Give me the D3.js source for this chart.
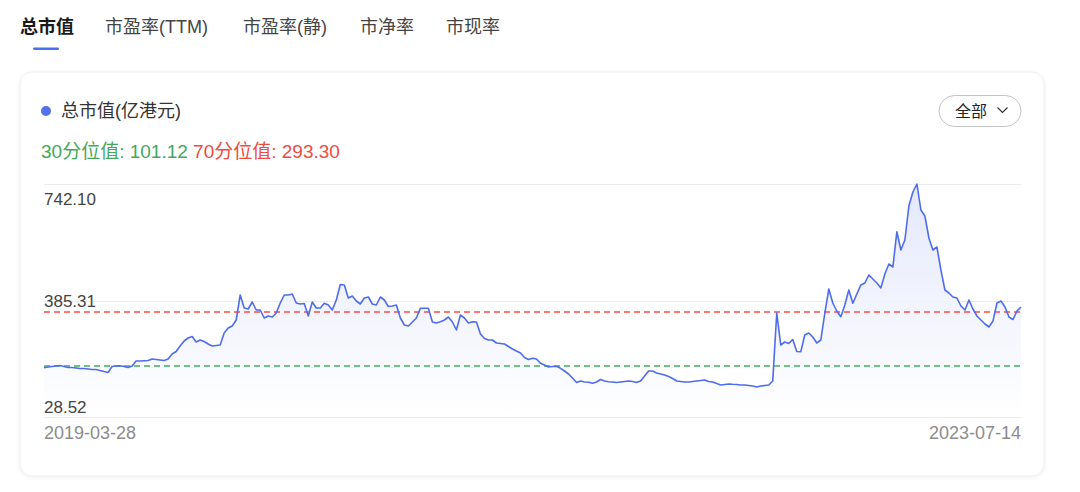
<!DOCTYPE html>
<html><head><meta charset="utf-8">
<script src="https://cdn.jsdelivr.net/npm/d3@7/dist/d3.min.js"></script>
<style>
html,body{margin:0;padding:0;background:#fff;}
text{font-family:"Liberation Sans","Noto Sans CJK SC",sans-serif;}
</style></head>
<body>
<svg id="c" width="1080" height="492"></svg>
<script>
// ---- data ----
const tabs = ["总市值","市盈率(TTM)","市盈率(静)","市净率","市现率"];
const seriesName = "总市值(亿港元)";
const startDate = "2019-03-28";
const endDate = "2023-07-14";
const p30 = 101.12;
const p70 = 293.30;
const yTickValues = [742.10, 385.31, 28.52];
const yTickLabels = ["742.10","385.31","28.52"];
const values = [
 96.3, 98.8, 100.5, 102.3, 104.0, 100.5, 97.0, 97.0, 95.2, 93.5, 93.5, 91.7, 90.0, 90.0, 86.5, 82.9, 79.4, 100.5, 102.3, 103.3,
 100.5, 97.0, 102.3, 119.9, 119.9, 120.9, 121.6, 126.9, 125.1, 123.4, 121.6, 126.9, 144.5, 153.3, 172.6, 190.2, 200.7, 206.0, 186.7, 193.7,
 188.4, 179.6, 172.6, 174.3, 176.1, 218.3, 235.9, 242.9, 264.0, 351.9, 306.2, 302.7, 327.3, 299.1, 299.1, 271.0, 278.1, 274.5, 288.6, 323.8,
 351.9, 351.9, 355.4, 323.8, 320.2, 322.0, 278.1, 327.3, 306.2, 306.2, 322.7, 316.7, 299.1, 334.3, 388.8, 387.0, 341.3, 348.4, 330.8, 320.2,
 341.3, 344.8, 320.2, 316.7, 344.8, 334.3, 311.5, 313.2, 316.7, 271.0, 246.4, 242.9, 257.0, 271.0, 305.1, 305.1, 305.1, 257.0, 253.4, 258.0,
 264.0, 274.5, 257.0, 228.8, 281.6, 271.0, 253.4, 258.0, 257.0, 214.8, 199.0, 193.7, 193.7, 183.1, 181.4, 179.6, 170.8, 162.0, 155.0, 148.0,
 132.2, 125.1, 129.3, 126.9, 111.8, 105.8, 98.8, 100.5, 101.2, 94.2, 84.7, 74.2, 60.1, 44.3, 49.5, 46.0, 45.0, 41.5, 46.0, 54.8,
 49.5, 47.1, 46.0, 44.3, 46.0, 47.8, 49.5, 47.8, 44.3, 49.5, 67.1, 84.7, 84.7, 77.7, 74.2, 70.6, 65.4, 58.3, 49.5, 47.8,
 46.0, 46.0, 47.8, 49.5, 51.3, 53.1, 47.8, 46.0, 40.8, 35.5, 37.2, 39.0, 37.9, 37.2, 35.5, 35.5, 33.7, 32.0, 28.52, 32.0,
 33.7, 35.5, 49.5, 288.6, 176.1, 186.7, 181.4, 195.4, 153.3, 152.5, 211.3, 218.3, 204.2, 183.1, 193.7, 287.5, 373.0, 323.8, 295.6, 275.6,
 316.7, 369.5, 322.7, 355.4, 387.0, 394.1, 422.2, 408.1, 394.1, 376.5, 425.7, 460.9, 450.3, 574.4, 510.1, 545.2, 664.8, 714.0, 742.1, 650.7,
 629.6, 552.3, 510.1, 520.6, 439.8, 369.5, 358.9, 344.8, 341.3, 313.2, 299.1, 334.3, 302.7, 278.1, 264.0, 249.9, 239.4, 260.5, 323.8, 330.8,
 309.7, 274.5, 265.8, 295.6, 309.7
];

// ---- layout ----
const svg = d3.select("#c");
const plot = {left:44, right:1021, top:184, bottom:417};
const yDomainLow = -77;

const defs = svg.append("defs");
const sh = defs.append("filter").attr("id","sh").attr("x","-5%").attr("y","-5%").attr("width","110%").attr("height","110%");
sh.append("feDropShadow").attr("dx",0).attr("dy",1).attr("stdDeviation",2).attr("flood-color","#000").attr("flood-opacity",0.06);
const grad = defs.append("linearGradient").attr("id","ag").attr("x1",0).attr("y1",0).attr("x2",0).attr("y2",1);
grad.append("stop").attr("offset","0%").attr("stop-color","#dfe4fb");
grad.append("stop").attr("offset","100%").attr("stop-color","#ffffff");

// tabs
const tabX = [20,105,243,360,446];
tabs.forEach((t,i)=>{
  svg.append("text").attr("x",tabX[i]).attr("y",33).attr("font-size",18)
    .attr("font-weight",i===0?"bold":"normal").attr("fill",i===0?"#1a1a1a":"#444").text(t);
});
svg.append("rect").attr("x",33).attr("y",47.5).attr("width",26).attr("height",2.5).attr("rx",1.2).attr("fill","#4b6ef5");

// card
svg.append("rect").attr("x",20).attr("y",72).attr("width",1024).attr("height",404).attr("rx",12)
  .attr("fill","#fff").attr("stroke","#eeeeee").attr("filter","url(#sh)");

// legend
svg.append("circle").attr("cx",46).attr("cy",111).attr("r",5).attr("fill","#5470ec");
svg.append("text").attr("x",61).attr("y",117).attr("font-size",18).attr("fill","#333").text(seriesName);

const pt = svg.append("text").attr("x",41).attr("y",158).attr("font-size",19);
pt.append("tspan").attr("fill","#43a85c").text("30分位值: " + p30.toFixed(2) + " ");
pt.append("tspan").attr("fill","#ee4b43").text("70分位值: " + p70.toFixed(2));

// button
svg.append("rect").attr("x",939).attr("y",95.5).attr("width",82).attr("height",31).attr("rx",15.5)
  .attr("fill","#fff").attr("stroke","#c4c4c4").attr("stroke-width",1);
svg.append("text").attr("x",955).attr("y",117).attr("font-size",16).attr("fill","#222").text("全部");
svg.append("path").attr("d","M997.5,107.5 L1002.5,112.5 L1007.5,107.5").attr("fill","none").attr("stroke","#333").attr("stroke-width",1.2);

// scales
const x = d3.scaleLinear().domain([0, values.length-1]).range([plot.left, plot.right]);
const y = d3.scaleLinear().domain([yDomainLow, d3.max(values)]).range([plot.bottom, plot.top]);
const yAxisScale = d3.scaleLinear().domain([d3.min(yTickValues), d3.max(yTickValues)]).range([plot.bottom, plot.top]);

// gridlines
svg.append("g").selectAll("line").data(yTickValues).join("line")
  .attr("x1",plot.left).attr("x2",plot.right)
  .attr("y1",d=>Math.round(yAxisScale(d))+0.5).attr("y2",d=>Math.round(yAxisScale(d))+0.5)
  .attr("stroke","#ececec").attr("stroke-width",1);

// area + line
const area = d3.area().x((d,i)=>x(i)).y0(plot.bottom).y1(d=>y(d));
svg.append("path").datum(values).attr("d",area).attr("fill","url(#ag)").attr("opacity",0.85);

// percentile lines
[[p70,"#ff4a45"],[p30,"#3fae5a"]].forEach(([v,c])=>{
  const yy = Math.round(y(v));
  svg.append("line").attr("x1",plot.left).attr("x2",plot.right).attr("y1",yy).attr("y2",yy)
    .attr("stroke",c).attr("stroke-width",1.6).attr("stroke-dasharray","6,4");
});

const line = d3.line().x((d,i)=>x(i)).y(d=>y(d));
svg.append("path").datum(values).attr("d",line).attr("fill","none").attr("stroke","#4f6cec").attr("stroke-width",1.6).attr("stroke-linejoin","round");

// y labels
const yOff = [21, 6, -4];
svg.append("g").selectAll("text").data(yTickValues).join("text")
  .attr("x",plot.left).attr("y",(d,i)=>yAxisScale(d)+yOff[i])
  .attr("font-size",17).attr("fill","#444").text((d,i)=>yTickLabels[i]);

// x labels
svg.append("text").attr("x",plot.left).attr("y",439).attr("font-size",18).attr("fill","#8c8c8c").text(startDate);
svg.append("text").attr("x",plot.right).attr("y",439).attr("font-size",18).attr("fill","#8c8c8c").attr("text-anchor","end").text(endDate);
</script>
</body></html>
